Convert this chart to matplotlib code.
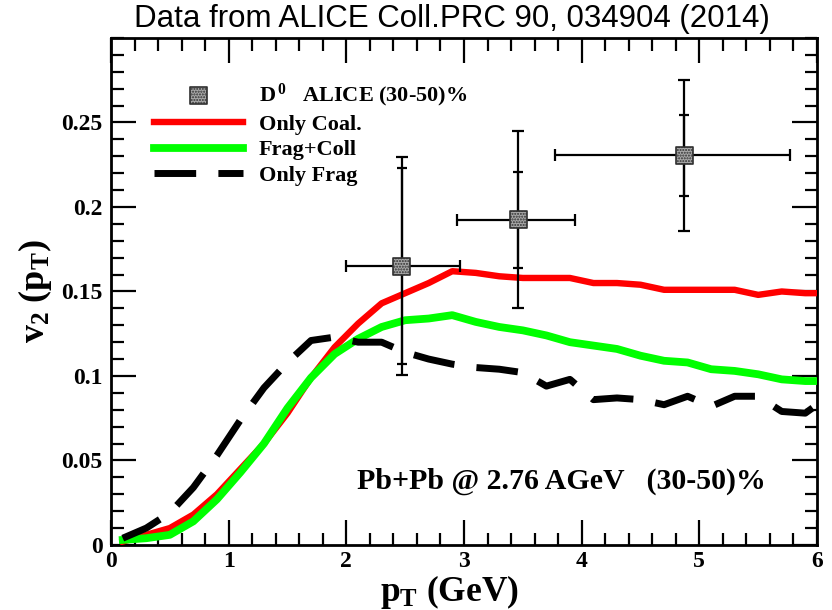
import numpy as np
import matplotlib
matplotlib.use("Agg")
import matplotlib.pyplot as plt
from matplotlib.ticker import MultipleLocator, FormatStrFormatter

serif = "Liberation Serif"
plt.rcParams["mathtext.fontset"] = "custom"
plt.rcParams["mathtext.rm"] = "Liberation Serif:bold"
plt.rcParams["mathtext.bf"] = "Liberation Serif:bold"
plt.rcParams["mathtext.it"] = "Liberation Serif:bold"

# ---- model curves (pT grid in GeV) ----
pt = [0.1, 0.3, 0.5, 0.7, 0.9, 1.1, 1.3, 1.5, 1.7, 1.9, 2.1, 2.3, 2.5, 2.7, 2.9,
      3.1, 3.3, 3.5, 3.7, 3.9, 4.1, 4.3, 4.5, 4.7, 4.9, 5.1, 5.3, 5.5, 5.7, 5.9, 6.0]
v2_coal = [0.002, 0.006, 0.010, 0.018, 0.030, 0.045, 0.060, 0.078, 0.099, 0.117,
           0.131, 0.143, 0.149, 0.155, 0.162, 0.161, 0.159, 0.158, 0.158, 0.158,
           0.155, 0.155, 0.154, 0.151, 0.151, 0.151, 0.151, 0.148, 0.150, 0.149, 0.149]
v2_frag_coll = [0.003, 0.004, 0.006, 0.014, 0.027, 0.043, 0.060, 0.081, 0.099, 0.113,
                0.122, 0.129, 0.133, 0.134, 0.136, 0.132, 0.129, 0.127, 0.124, 0.120,
                0.118, 0.116, 0.112, 0.109, 0.108, 0.104, 0.103, 0.101, 0.098, 0.097, 0.097]
v2_frag = [0.004, 0.010, 0.019, 0.034, 0.053, 0.074, 0.093, 0.108, 0.121, 0.123,
           0.120, 0.120, 0.114, 0.110, 0.107, 0.105, 0.104, 0.102, 0.094, 0.098,
           0.086, 0.087, 0.086, 0.083, 0.088, 0.082, 0.088, 0.088, 0.079, 0.078, 0.083]

# ---- ALICE D0 v2, 30-50% ----
d0_pt = [2.47, 3.46, 4.87]
d0_v2 = [0.165, 0.1925, 0.2305]
d0_pt_lo = [0.47, 0.52, 1.10]
d0_pt_hi = [0.50, 0.48, 0.90]
d0_err_tot = [0.0645, 0.0525, 0.0445]
d0_err_stat = [0.058, 0.0285, 0.024]

y_ticks = [0, 0.05, 0.1, 0.15, 0.2, 0.25]

fig = plt.figure(figsize=(8.32, 6.10), dpi=100)
ax = fig.add_axes([0.1334, 0.1066, 0.8486, 0.8311])

ax.plot(pt, v2_coal, color="#ff0000", lw=4.6, label="Only Coal.", zorder=3)
ax.plot(pt, v2_frag_coll, color="#00ff00", lw=5.6, label="Frag+Coll", zorder=4)
ax.plot(pt, v2_frag, color="black", lw=5.0, dashes=(6.0, 3.2),
        label="Only Frag", zorder=5)

# total error bars with end caps, inner ticks for the statistical part
ax.errorbar(d0_pt, d0_v2, xerr=[d0_pt_lo, d0_pt_hi], yerr=d0_err_tot,
            fmt="none", ecolor="black", elinewidth=1.6, capsize=4.5,
            capthick=1.6, zorder=6)
ax.errorbar(d0_pt, d0_v2, yerr=d0_err_stat, fmt="none", ecolor="black",
            elinewidth=1.6, capsize=3.5, capthick=1.6, zorder=6)
ax.scatter(d0_pt, d0_v2, marker="s", s=150, facecolor="#a8a8a8",
           edgecolor="#303030", linewidths=1.2, hatch="......",
           zorder=7, label=r"D$^{\,0}$   ALICE (30-50)%")

ax.set_xlim(0, 6)
ax.set_ylim(0, 0.3)
ax.xaxis.set_major_locator(MultipleLocator(1))
ax.xaxis.set_minor_locator(MultipleLocator(0.2))
ax.set_yticks(y_ticks)
ax.yaxis.set_minor_locator(MultipleLocator(0.01))
ax.xaxis.set_major_formatter(FormatStrFormatter("%g"))
ax.yaxis.set_major_formatter(FormatStrFormatter("%g"))
ax.tick_params(which="both", direction="in", top=True, right=True, width=1.6)
ax.tick_params(which="major", length=18, pad=6)
ax.tick_params(axis="x", which="major", pad=4)
ax.tick_params(which="minor", length=9)
for lab in ax.get_xticklabels() + ax.get_yticklabels():
    lab.set_fontfamily(serif)
    lab.set_fontweight("bold")
    lab.set_fontsize(17)
for s in ax.spines.values():
    s.set_linewidth(2.0)

# axis titles placed in figure coordinates
fig.text(0.540, 0.014, r"p$_{T}$ (GeV)", family=serif, weight="bold",
         fontsize=25.5, ha="center", va="baseline")
ax.set_ylabel(r"v$_{2}$ (p$_{T}$)", family=serif, weight="bold",
              fontsize=26, labelpad=5)

fig.text(0.543, 0.955, "Data from ALICE Coll.PRC 90, 034904 (2014)",
         family="Liberation Sans", fontsize=22.5, ha="center", va="baseline")

ax.text(2.09, 0.0375, "Pb+Pb @ 2.76 AGeV   (30-50)%", family=serif,
        weight="bold", fontsize=21.5, va="center", ha="left")

handles, labels = ax.get_legend_handles_labels()
order = [3, 0, 1, 2]
ax.legend([handles[i] for i in order], [labels[i] for i in order],
          loc="upper left", bbox_to_anchor=(0.033, 0.953), frameon=False,
          handlelength=4.0, handletextpad=0.7, labelspacing=0.23,
          prop={"family": serif, "weight": "bold", "size": 16},
          scatterpoints=1)

fig.savefig("out.png", dpi=100)
